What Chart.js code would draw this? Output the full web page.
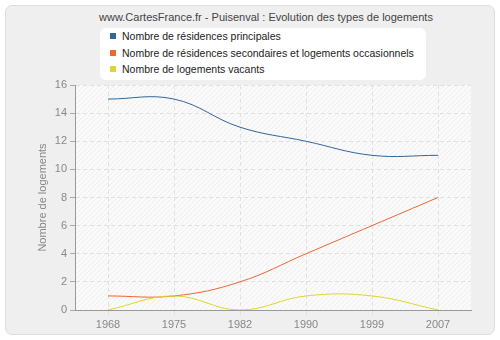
<!DOCTYPE html>
<html>
<head>
<meta charset="utf-8">
<script src="https://cdn.jsdelivr.net/npm/chart.js@4/dist/chart.umd.min.js"></script>
<style>
  html, body { margin: 0; padding: 0; background: #ffffff; }
  #wrap { position: relative; width: 500px; height: 340px; font-family: "Liberation Sans", Arial, sans-serif; }
  #panel { position: absolute; left: 5px; top: 5px; width: 488px; height: 328px; background: #efefef; border: 1px solid #dedede; border-radius: 7px; }
  #title { position: absolute; left: 16px; width: 500px; top: 11px; text-align: center; font-size: 11px; color: #444; }
  #legend { position: absolute; left: 100px; top: 28px; width: 326px; height: 52px; background: #fff; border-radius: 6px; font-size: 10.5px; color: #222; }
  .item { position: absolute; left: 10px; height: 14px; line-height: 14px; white-space: nowrap; }
  .sw { display: inline-block; width: 6px; height: 6px; margin-right: 6px; vertical-align: 1px; }
  canvas { position: absolute; left: 0; top: 0; }
</style>
</head>
<body>
<div id="wrap">
  <div id="panel"></div>
  <div id="title">www.CartesFrance.fr - Puisenval : Evolution des types de logements</div>
  <div id="legend"></div>
  <canvas id="c" width="500" height="340"></canvas>
</div>
<script>
const years = ["1968", "1975", "1982", "1990", "1999", "2007"];
const principales = [15, 15, 13, 12, 11, 11];
const secondaires = [1, 1, 2, 4, 6, 8];
const vacants = [0, 1, 0, 1, 1, 0];
const seriesNames = [
  "Nombre de résidences principales",
  "Nombre de résidences secondaires et logements occasionnels",
  "Nombre de logements vacants"
];
const seriesColors = ["#336699", "#ee6633", "#e0d530"];
const yTicks = [0, 2, 4, 6, 8, 10, 12, 14, 16];

const legend = document.getElementById('legend');
seriesNames.forEach((n, i) => {
  const d = document.createElement('div');
  d.className = 'item';
  d.style.top = (1 + i * 16.5) + 'px';
  d.innerHTML = '<span class="sw" style="background:' + seriesColors[i] + '"></span>' + n;
  legend.appendChild(d);
});

const bgPlugin = {
  id: 'bg',
  beforeDraw(chart) {
    const { ctx, chartArea: a } = chart;
    ctx.save();
    ctx.fillStyle = '#fafafa';
    ctx.fillRect(a.left, a.top, a.right - a.left, a.bottom - a.top);
    ctx.beginPath();
    ctx.rect(a.left, a.top, a.right - a.left, a.bottom - a.top);
    ctx.clip();
    ctx.strokeStyle = '#eeeeee';
    ctx.lineWidth = 1;
    const h = a.bottom - a.top;
    for (let x = a.left - h; x < a.right; x += 5) {
      ctx.beginPath();
      ctx.moveTo(x, a.bottom);
      ctx.lineTo(x + h, a.top);
      ctx.stroke();
    }
    ctx.restore();
  }
};

const datasets = [principales, secondaires, vacants].map((d, i) => ({
  label: seriesNames[i],
  data: d,
  borderColor: seriesColors[i],
  backgroundColor: seriesColors[i],
  borderWidth: 1,
  pointRadius: 0,
  tension: 0.4,
  fill: false
}));

new Chart(document.getElementById('c'), {
  type: 'line',
  data: { labels: years, datasets: datasets.reverse() },
  plugins: [bgPlugin],
  options: {
    responsive: false,
    animation: false,
    layout: { padding: { top: 85, right: 29, left: 0, bottom: 0 } },
    plugins: { legend: { display: false }, title: { display: false }, tooltip: { enabled: false } },
    scales: {
      x: {
        offset: true,
        grid: { color: '#e0e0e0', tickLength: 5, drawTicks: true, tickColor: '#e0e0e0', offset: false },
        border: { color: '#999', dash: [4, 3] },
        ticks: { color: '#888', font: { family: 'Liberation Sans', size: 11 }, padding: 3, maxRotation: 0 },
        afterFit(s) { s.height = 30; }
      },
      y: {
        min: 0, max: 16,
        afterBuildTicks(s) { s.ticks = yTicks.map(v => ({ value: v })); },
        grid: { color: '#e0e0e0', tickLength: 5, tickColor: '#aaa' },
        border: { color: '#999', dash: [4, 3] },
        ticks: { color: '#888', font: { family: 'Liberation Sans', size: 11 }, padding: 3 },
        title: { display: true, text: 'Nombre de logements', color: '#888', font: { family: 'Liberation Sans', size: 11 }, padding: { top: 36, bottom: 0 } },
        afterFit(s) { s.width = 75; }
      }
    }
  }
});
</script>
</body>
</html>
